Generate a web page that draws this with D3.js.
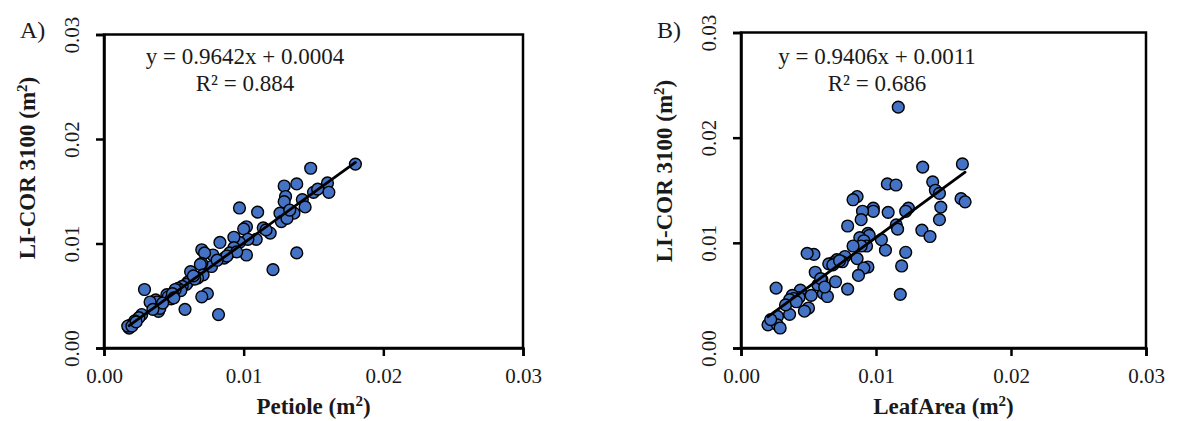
<!DOCTYPE html>
<html><head><meta charset="utf-8">
<script src="https://cdn.jsdelivr.net/npm/d3@7"></script>
<style>
html,body{margin:0;padding:0;background:#fff;}
svg text{font-family:"Liberation Serif","Times New Roman",serif;fill:#1a1a1a;}
</style></head>
<body><svg id="c" width="1184" height="421"></svg>
<script>
// ---- data ----
const ticks = [0, 0.01, 0.02, 0.03];
const tickLabels = ["0.00", "0.01", "0.02", "0.03"];

const petioleX = [0.0180,0.0148,0.0138,0.0129,0.0160,0.0161,0.0150,0.0130,0.0129,0.0142,0.0144,0.0136,0.0126,0.0127,0.0131,0.0119,0.0114,0.0097,0.0110,0.0102,0.0100,0.0109,0.0103,0.0097,0.0093,0.0102,0.0093,0.0090,0.0083,0.0086,0.0078,0.0077,0.0070,0.0072,0.0070,0.0069,0.0071,0.0067,0.0062,0.0060,0.0059,0.0056,0.0053,0.0055,0.0051,0.0045,0.0046,0.0048,0.0074,0.0070,0.0082,0.0058,0.0121,0.0138,0.0029,0.0037,0.0038,0.0033,0.0039,0.0040,0.0027,0.0025,0.0022,0.0019,0.0018,0.0017,0.0020,0.0049,0.0050,0.0095,0.0088,0.0065,0.0064,0.0081,0.0133,0.0153,0.0116,0.0042,0.0035,0.0023];
const petioleY = [0.0176,0.0172,0.0157,0.0155,0.0158,0.0149,0.0149,0.0145,0.0140,0.0142,0.0135,0.0129,0.0129,0.0121,0.0124,0.0110,0.0115,0.0134,0.0130,0.0116,0.0114,0.0104,0.0104,0.0101,0.0106,0.0089,0.0096,0.0091,0.0101,0.0086,0.0089,0.0078,0.0094,0.0091,0.0081,0.0080,0.0070,0.0067,0.0073,0.0063,0.0061,0.0059,0.0057,0.0055,0.0056,0.0051,0.0049,0.0047,0.0052,0.0049,0.0032,0.0037,0.0075,0.0091,0.0056,0.0046,0.0044,0.0044,0.0035,0.0038,0.0032,0.0029,0.0026,0.0022,0.0019,0.0021,0.0021,0.0052,0.0048,0.0092,0.0088,0.0066,0.0069,0.0084,0.0132,0.0152,0.0113,0.0043,0.0037,0.0025];

const leafX = [0.01165,0.0164,0.01346,0.01084,0.01148,0.0142,0.0144,0.0147,0.0148,0.0147,0.0163,0.0166,0.0134,0.0140,0.0124,0.0122,0.0109,0.0115,0.0116,0.0122,0.0119,0.0118,0.0107,0.0104,0.0098,0.0098,0.0090,0.0089,0.0086,0.0083,0.0079,0.0094,0.0095,0.0088,0.0091,0.0093,0.0089,0.0086,0.0083,0.0094,0.0091,0.0087,0.0077,0.0071,0.0068,0.0065,0.0079,0.0070,0.0060,0.0055,0.0054,0.0049,0.0061,0.0064,0.0052,0.0050,0.0047,0.0044,0.0043,0.0038,0.0039,0.0036,0.0036,0.0026,0.0027,0.0020,0.0027,0.0029,0.0022,0.0057,0.0059,0.0075,0.0068,0.0073,0.0033,0.0041,0.0062];
const leafY = [0.0229,0.0175,0.0172,0.0156,0.0155,0.0158,0.0150,0.0147,0.0134,0.0122,0.0142,0.0139,0.0112,0.0106,0.0133,0.0130,0.0129,0.0117,0.0113,0.0091,0.0078,0.0051,0.0093,0.0103,0.0133,0.0130,0.0130,0.0122,0.0144,0.0141,0.0116,0.0109,0.0107,0.0105,0.0102,0.0097,0.0097,0.0085,0.0097,0.0077,0.0076,0.0069,0.0087,0.0084,0.0081,0.0080,0.0056,0.0063,0.0065,0.0072,0.0089,0.0090,0.0052,0.0049,0.0050,0.0038,0.0035,0.0055,0.0048,0.0050,0.0047,0.0046,0.0032,0.0057,0.0030,0.0022,0.0022,0.0019,0.0027,0.0060,0.0066,0.0082,0.0079,0.0083,0.0041,0.0044,0.0058];

const panels = [
  {label:"A)", xs:petioleX, ys:petioleY, slope:0.9642, icpt:0.0004, lineX:[0.0018,0.0180],
   eq:"y = 0.9642x + 0.0004", r2:"R² = 0.884", xTitle:"Petiole", left:104, right:523, top:34.5, bottom:348, eqX:245, yTitleY:168},
  {label:"B)", xs:leafX, ys:leafY, slope:0.9406, icpt:0.0011, lineX:[0.0020,0.0166],
   eq:"y = 0.9406x + 0.0011", r2:"R² = 0.686", xTitle:"LeafArea", left:741, right:1146, top:32.5, bottom:348, eqX:877, yTitleY:171}
];

const svg = d3.select("#c");

panels.forEach(p => {
  const x = d3.scaleLinear().domain([0,0.03]).range([p.left,p.right]);
  const y = d3.scaleLinear().domain([0,0.03]).range([p.bottom,p.top]);
  const g = svg.append("g");

  // frame
  g.append("rect").attr("x",p.left).attr("y",p.top)
    .attr("width",p.right-p.left).attr("height",p.bottom-p.top)
    .attr("fill","none").attr("stroke","#000").attr("stroke-width",2.5);

  // x axis
  const xa = g.append("g").attr("transform",`translate(0,${p.bottom})`)
    .call(d3.axisBottom(x).tickValues(ticks).tickSize(8).tickFormat((d,i)=>tickLabels[i]));
  xa.select(".domain").attr("stroke","#000").attr("stroke-width",2.5);
  xa.selectAll(".tick line").attr("stroke","#000").attr("stroke-width",2.5);
  xa.selectAll(".tick text").attr("y",35).attr("dy",0)
    .style("font-size","21px").style("font-family","Liberation Serif, serif").attr("fill","#222");

  // y axis
  const ya = g.append("g").attr("transform",`translate(${p.left},0)`)
    .call(d3.axisLeft(y).tickValues(ticks).tickSize(8).tickFormat((d,i)=>tickLabels[i]));
  ya.select(".domain").attr("stroke","#000").attr("stroke-width",2.5);
  ya.selectAll(".tick line").attr("stroke","#000").attr("stroke-width",2.5);
  ya.selectAll(".tick text").attr("x",null).attr("dy",null)
    .attr("text-anchor","middle")
    .attr("transform","translate(-25,0) rotate(-90)")
    .style("font-size","21px").style("font-family","Liberation Serif, serif").attr("fill","#222");

  // points
  g.selectAll("circle.pt").data(p.xs.map((v,i)=>[v,p.ys[i]])).join("circle")
    .attr("class","pt").attr("cx",d=>x(d[0])).attr("cy",d=>y(d[1]))
    .attr("r",5.9).attr("fill","#4472C4").attr("stroke","#000").attr("stroke-width",1.4);

  // trend line
  const line = d3.line().x(d=>x(d)).y(d=>y(p.slope*d+p.icpt));
  g.append("path").datum(p.lineX).attr("d",line)
    .attr("fill","none").attr("stroke","#000").attr("stroke-width",2.8).attr("stroke-linecap","round");

  // equation
  g.append("text").attr("x",p.eqX).attr("y",64).attr("text-anchor","middle")
    .style("font-size","23px").text(p.eq);
  g.append("text").attr("x",p.eqX).attr("y",91).attr("text-anchor","middle")
    .style("font-size","23px").text(p.r2);

  // x title
  const xt = g.append("text").attr("x",(p.left+p.right)/2).attr("y",414)
    .attr("text-anchor","middle").style("font-size","23px").style("font-weight","bold");
  xt.append("tspan").text(p.xTitle+" (m");
  xt.append("tspan").attr("dy",-8).style("font-size","15px").text("2");
  xt.append("tspan").attr("dy",8).text(")");

  // y title
  const yt = g.append("text").attr("transform",`translate(${p.left-69},${p.yTitleY}) rotate(-90)`)
    .attr("text-anchor","middle").style("font-size","23px").style("font-weight","bold");
  yt.append("tspan").text("LI-COR 3100 (m");
  yt.append("tspan").attr("dy",-8).style("font-size","15px").text("2");
  yt.append("tspan").attr("dy",8).text(")");

  // panel label
  g.append("text").attr("x",p.left-84).attr("y",38).style("font-size","24px").text(p.label);
});
</script></body></html>
